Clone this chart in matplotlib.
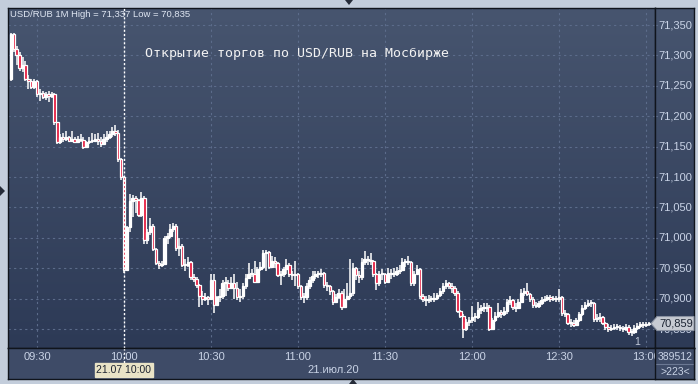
import numpy as np
import matplotlib
matplotlib.use("Agg")
import matplotlib.pyplot as plt
from matplotlib.colors import LinearSegmentedColormap
from matplotlib.patches import Polygon

# USD/RUB 1-minute candles, 09:21 .. 13:01, 21.07.2020
start_minute = 21          # minutes after 09:00 of the first candle
first_open = 71.262

closes = [
    71.335, 71.310, 71.300, 71.280, 71.285, 71.262, 71.258, 71.248, 71.258, 71.236,
    71.238, 71.232, 71.236, 71.233, 71.237, 71.190, 71.158, 71.165, 71.162, 71.166,
    71.160, 71.163, 71.158, 71.162, 71.161, 71.150, 71.158, 71.160, 71.159, 71.162,
    71.160, 71.155, 71.162, 71.165, 71.170, 71.176, 71.172, 71.130, 71.100,
    70.947, 71.018, 71.060, 71.065, 71.062, 71.038, 71.066, 70.996, 71.010, 71.020,
    70.982, 70.958, 70.955, 70.957, 71.000, 71.003, 71.015, 71.020, 70.984, 70.986,
    70.956, 70.955, 70.960, 70.936, 70.932, 70.922, 70.904, 70.900, 70.902, 70.899,
    70.930, 70.890, 70.903, 70.905, 70.925, 70.926, 70.917, 70.926, 70.918, 70.902,
    70.905, 70.920, 70.934, 70.940, 70.941, 70.928, 70.948, 70.952, 70.975, 70.976,
    70.952, 70.962, 70.958, 70.938, 70.940, 70.948, 70.955, 70.940, 70.938, 70.940,
    70.920, 70.902, 70.902, 70.920, 70.930, 70.937, 70.940, 70.940, 70.942, 70.922,
    70.920, 70.912, 70.895, 70.902, 70.910, 70.886, 70.900, 70.905, 70.910, 70.950,
    70.938, 70.935, 70.960, 70.965, 70.963, 70.962, 70.940, 70.925, 70.940, 70.940,
    70.928, 70.942, 70.940, 70.941, 70.945, 70.947, 70.960, 70.960, 70.961, 70.925,
    70.940, 70.948, 70.905, 70.900, 70.897, 70.900, 70.900, 70.901, 70.906, 70.912,
    70.920, 70.925, 70.920, 70.918, 70.910, 70.880, 70.872, 70.850, 70.862, 70.865,
    70.870, 70.870, 70.882, 70.885, 70.885, 70.887, 70.850, 70.865, 70.872, 70.878,
    70.875, 70.880, 70.895, 70.898, 70.886, 70.885, 70.895, 70.910, 70.913, 70.908,
    70.900, 70.890, 70.888, 70.892, 70.898, 70.900, 70.903, 70.900, 70.901, 70.900,
    70.902, 70.876, 70.875, 70.860, 70.860, 70.857, 70.865, 70.874, 70.885, 70.890,
    70.892, 70.893, 70.866, 70.868, 70.870, 70.860, 70.853, 70.850, 70.852, 70.853,
    70.853, 70.852, 70.850, 70.853, 70.845, 70.845, 70.852, 70.855, 70.858, 70.857,
    70.858, 70.859,
]

highs = [
    71.337, 71.337, 71.315, 71.305, 71.298, 71.290, 71.268, 71.262, 71.262, 71.260,
    71.245, 71.242, 71.240, 71.241, 71.240, 71.238, 71.190, 71.170, 71.172, 71.175,
    71.168, 71.176, 71.165, 71.168, 71.170, 71.165, 71.160, 71.165, 71.172, 71.170,
    71.172, 71.165, 71.170, 71.175, 71.176, 71.182, 71.185, 71.178, 71.132,
    71.102, 71.020, 71.072, 71.070, 71.068, 71.064, 71.076, 71.068, 71.015, 71.032,
    71.022, 70.984, 70.962, 70.962, 71.003, 71.008, 71.022, 71.025, 71.022, 71.000,
    70.990, 70.965, 70.968, 70.962, 70.940, 70.935, 70.924, 70.912, 70.910, 70.905,
    70.940, 70.940, 70.905, 70.915, 70.930, 70.935, 70.930, 70.935, 70.940, 70.928,
    70.915, 70.925, 70.940, 70.958, 70.948, 70.962, 70.952, 70.960, 70.980, 70.980,
    70.978, 70.970, 70.968, 70.960, 70.945, 70.952, 70.965, 70.958, 70.945, 70.962,
    70.942, 70.922, 70.910, 70.925, 70.935, 70.945, 70.946, 70.945, 70.948, 70.944,
    70.928, 70.922, 70.914, 70.908, 70.915, 70.912, 70.915, 70.925, 70.965, 70.958,
    70.952, 70.945, 70.966, 70.978, 70.970, 70.975, 70.964, 70.942, 70.945, 70.948,
    70.942, 70.950, 70.948, 70.950, 70.952, 70.955, 70.966, 70.965, 70.970, 70.962,
    70.945, 70.955, 70.950, 70.908, 70.905, 70.906, 70.905, 70.910, 70.910, 70.918,
    70.925, 70.930, 70.928, 70.925, 70.920, 70.912, 70.882, 70.874, 70.866, 70.870,
    70.888, 70.876, 70.895, 70.890, 70.892, 70.892, 70.889, 70.868, 70.878, 70.892,
    70.882, 70.886, 70.900, 70.904, 70.900, 70.892, 70.900, 70.915, 70.918, 70.926,
    70.910, 70.902, 70.895, 70.896, 70.902, 70.905, 70.906, 70.906, 70.905, 70.904,
    70.915, 70.905, 70.882, 70.877, 70.866, 70.864, 70.868, 70.878, 70.890, 70.895,
    70.898, 70.897, 70.895, 70.874, 70.876, 70.872, 70.862, 70.858, 70.856, 70.858,
    70.858, 70.856, 70.855, 70.858, 70.856, 70.850, 70.856, 70.860, 70.862, 70.862,
    70.862, 70.862,
]

lows = [
    71.258, 71.305, 71.285, 71.275, 71.272, 71.258, 71.245, 71.245, 71.245, 71.232,
    71.225, 71.228, 71.226, 71.224, 71.230, 71.185, 71.155, 71.155, 71.158, 71.160,
    71.157, 71.158, 71.156, 71.158, 71.158, 71.146, 71.148, 71.155, 71.156, 71.158,
    71.152, 71.150, 71.154, 71.158, 71.163, 71.165, 71.168, 71.125, 71.095,
    70.942, 70.945, 71.010, 71.035, 71.040, 71.035, 71.035, 70.990, 70.990, 71.005,
    70.978, 70.955, 70.948, 70.952, 70.955, 70.990, 71.000, 71.010, 70.978, 70.970,
    70.952, 70.945, 70.952, 70.930, 70.928, 70.918, 70.886, 70.890, 70.896, 70.890,
    70.898, 70.876, 70.888, 70.895, 70.900, 70.905, 70.912, 70.915, 70.900, 70.898,
    70.895, 70.900, 70.915, 70.932, 70.935, 70.925, 70.925, 70.945, 70.948, 70.945,
    70.948, 70.950, 70.950, 70.935, 70.922, 70.935, 70.940, 70.935, 70.930, 70.920,
    70.915, 70.898, 70.892, 70.898, 70.915, 70.925, 70.932, 70.934, 70.935, 70.918,
    70.912, 70.906, 70.890, 70.894, 70.900, 70.882, 70.884, 70.898, 70.900, 70.905,
    70.930, 70.925, 70.930, 70.955, 70.955, 70.955, 70.935, 70.914, 70.920, 70.930,
    70.924, 70.925, 70.932, 70.935, 70.937, 70.940, 70.945, 70.952, 70.955, 70.920,
    70.920, 70.940, 70.900, 70.895, 70.888, 70.892, 70.895, 70.894, 70.898, 70.902,
    70.908, 70.915, 70.915, 70.910, 70.905, 70.876, 70.868, 70.835, 70.846, 70.855,
    70.860, 70.862, 70.866, 70.875, 70.878, 70.878, 70.846, 70.848, 70.862, 70.868,
    70.868, 70.872, 70.875, 70.890, 70.882, 70.878, 70.883, 70.893, 70.905, 70.904,
    70.895, 70.885, 70.884, 70.885, 70.890, 70.894, 70.896, 70.895, 70.896, 70.895,
    70.895, 70.872, 70.870, 70.856, 70.854, 70.853, 70.855, 70.862, 70.872, 70.882,
    70.886, 70.886, 70.862, 70.862, 70.862, 70.856, 70.848, 70.845, 70.846, 70.848,
    70.848, 70.846, 70.845, 70.846, 70.840, 70.838, 70.842, 70.848, 70.852, 70.852,
    70.854, 70.855,
]

price_ticks = [71.35, 71.30, 71.25, 71.20, 71.15, 71.10, 71.05, 71.00, 70.95, 70.90, 70.85]
time_ticks = [30, 60, 90, 120, 150, 180, 210, 240]
time_labels = ["09:30", "10:00", "10:30", "11:00", "11:30", "12:00", "12:30", "13:00"]
last_price = 70.859

W, H = 698, 384
PX_MIN = 2.9          # pixels per minute
PX_PRICE = 608.0      # pixels per rouble
txt = "#c9d3e6"
grid_c = "#5c6c8b"
red = "#e4183c"

fig = plt.figure(figsize=(W / 100, H / 100), dpi=100)
fig.patch.set_facecolor("#c3cddb")


def box(x0, y0, x1, y1):
    return [x0 / W, 1 - y1 / H, (x1 - x0) / W, (y1 - y0) / H]


def t_at(px):
    return 30 + (px - 37) / PX_MIN


def p_at(py):
    return 71.35 - (py - 25) / PX_PRICE


xlim = (t_at(8), t_at(655))
ylim = (p_at(348), p_at(8))
grad = LinearSegmentedColormap.from_list("bg", ["#47556f", "#2d3a56"])
ramp = np.linspace(0, 1, 256).reshape(-1, 1)

ax = fig.add_axes(box(8, 8, 655, 348))
axr = fig.add_axes(box(655, 8, 694, 348))
axb = fig.add_axes(box(8, 348, 694, 379), zorder=1)
axrb = fig.add_axes(box(655, 348, 694, 379), zorder=2)

ax.imshow(ramp, cmap=grad, aspect="auto", zorder=0,
          extent=[xlim[0], xlim[1], ylim[0], ylim[1]])
axr.imshow(ramp, cmap=grad, aspect="auto", zorder=0,
           extent=[0, 1, ylim[0], ylim[1]])
for a in (ax, axr):
    a.set_ylim(ylim)
ax.set_xlim(xlim)
axr.set_xlim(0, 1)
for a in (axb, axrb):
    a.set_facecolor("#3e4b67")
axb.set_xlim(xlim[0], t_at(694))
axb.set_ylim(379, 348)
axrb.set_xlim(0, 1)
axrb.set_ylim(379, 348)

for a in (ax, axr, axb, axrb):
    a.set_xticks([])
    a.set_yticks([])
    for s in a.spines.values():
        s.set_color("#10141c")
        s.set_linewidth(1)

# grid
for p in price_ticks:
    ax.axhline(p, color=grid_c, lw=0.8, ls=(0, (2, 3)), zorder=1)
    axr.axhline(p, xmax=0.06, color=grid_c, lw=0.8, zorder=1)
for t in time_ticks:
    ax.axvline(t, color=grid_c, lw=0.8, ls=(0, (2, 3)), zorder=1)

# candles
times = np.arange(start_minute, start_minute + len(closes))
closes_a = np.array(closes)
opens = np.array([first_open] + closes[:-1])
bottoms = np.minimum(opens, closes_a)
heights = np.maximum(np.abs(closes_a - opens), 0.0018)
faces = [red if c < o else "white" for o, c in zip(opens, closes_a)]
ax.vlines(times, lows, highs, color="white", lw=1.1, zorder=3)
ax.bar(times, heights, width=0.85, bottom=bottoms, color=faces,
       edgecolor="white", linewidth=0.9, zorder=4)

# open marker line at 10:00
ax.axvline(60, color="white", lw=1, ls=(0, (1.5, 1.5)), zorder=5)
axb.plot([60, 60], [348, 363], color="white", lw=1, ls=(0, (1.5, 1.5)))

# price scale
for p in price_ticks:
    axr.text(0.08, p, f"{p:.3f}".replace(".", ","), color=txt, fontsize=8,
             family="Liberation Sans", va="center", ha="left", zorder=2)

# time axis
for t, lab in zip(time_ticks, time_labels):
    axb.text(t, 357, lab, color=txt, fontsize=8, family="Liberation Sans",
             ha="center", va="center")
axb.text(t_at(333), 370, "21.июл.20", color=txt, fontsize=8,
         family="Liberation Sans", ha="center", va="center")
axb.text(60, 370, "21.07 10:00", color="#1e2430", fontsize=7.5,
         family="Liberation Sans", ha="center", va="center",
         bbox=dict(boxstyle="square,pad=0.15", fc="#e9e3c6", ec="#e9e3c6"))
axrb.axhline(364, color="#6b7893", lw=0.8)
axrb.text(0.52, 356.5, "389512", color=txt, fontsize=7.5, family="Liberation Sans",
          ha="center", va="center")
axrb.text(0.52, 372, ">223<", color=txt, fontsize=7.5, family="Liberation Sans",
          ha="center", va="center")

# overlay in pixel coordinates
ov = fig.add_axes([0, 0, 1, 1], zorder=10)
ov.set_xlim(0, W)
ov.set_ylim(H, 0)
ov.axis("off")
ov.patch.set_alpha(0)

ov.text(10, 14.5, "USD/RUB 1M High = 71,337 Low = 70,835", color="#dfe6f2",
        fontsize=6.8, family="Liberation Sans", va="center", ha="left")
ov.text(145, 53, "Открытие торгов по USD/RUB на Мосбирже", color="#f2f2f2",
        fontsize=9.5, family="DejaVu Sans Mono", va="center", ha="left")
ov.text(637, 342, "1", color="#c4ccdc", fontsize=7.5, family="Liberation Sans",
        ha="center", va="center")

tag_y = 25 + (71.35 - last_price) * PX_PRICE
ov.add_patch(Polygon([(651, tag_y), (657, tag_y - 7), (694, tag_y - 7),
                      (694, tag_y + 7), (657, tag_y + 7)],
                     closed=True, fc="#c6cad2", ec="#8a92a2", lw=0.8))
ov.text(659, tag_y, f"{last_price:.3f}".replace(".", ","), color="#1c2433",
        fontsize=8, family="Liberation Sans", va="center", ha="left")

for tri in ([(345, 0), (353, 0), (349, 5)],
            [(0, 186), (0, 196), (5, 191)],
            [(349, 384), (357, 384), (353, 379)]):
    ov.add_patch(Polygon(tri, closed=True, fc="#252b38", ec="none"))

fig.savefig("out.png", dpi=100, facecolor=fig.get_facecolor())
